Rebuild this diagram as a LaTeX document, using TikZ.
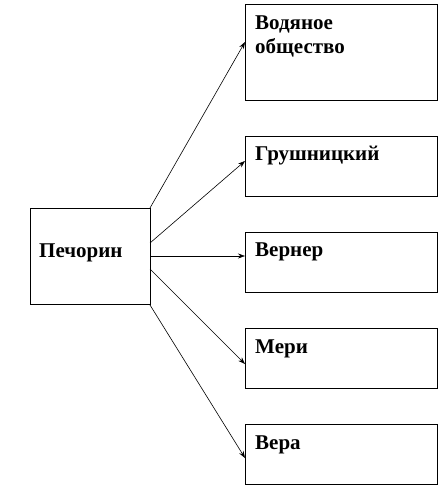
\documentclass[tikz,border=0pt]{standalone}
\usepackage{fontspec}
\setmainfont{Liberation Serif}
\usetikzlibrary{arrows.meta}
\begin{document}
\begin{tikzpicture}[x=1pt,y=-1pt,
  box/.style={draw,line width=0.9pt,minimum width=192pt,minimum height=#1,inner sep=0pt,anchor=north west},
  pbox/.style={draw,line width=0.9pt,minimum width=120pt,minimum height=96pt,inner sep=0pt,anchor=north west},
  lbl/.style={anchor=base west,inner sep=0pt,font=\fontsize{21}{23}\selectfont\bfseries},
  arr/.style={-{Stealth[length=7pt,width=5pt]},line width=0.6pt}]
\useasboundingbox (0,0) rectangle (441,487);
\node[pbox] (p) at (30,208) {};
\node[box=96pt] (b1) at (245,4) {};
\node[box=60pt] (b2) at (245,136) {};
\node[box=60pt] (b3) at (245,232) {};
\node[box=60pt] (b4) at (245,328) {};
\node[box=60pt] (b5) at (245,424) {};
\node[lbl] (tp) at (39,257) {Печорин};
\node[lbl] (t1) at (255,30) {Водяное};
\node[lbl] (t1b) at (255,53) {общество};
\node[lbl] (t2) at (255,160) {Грушницкий};
\node[lbl] (t3) at (255,256) {Вернер};
\node[lbl] (t4) at (255,353) {Мери};
\node[lbl] (t5) at (255,449) {Вера};
\coordinate (s1) at (150,208);
\coordinate (s2) at (150,243);
\coordinate (s3) at (150,256);
\coordinate (s4) at (150,269);
\coordinate (s5) at (150,305);
\coordinate (e1) at (245,42);
\coordinate (e2) at (245,161);
\coordinate (e3) at (245,256);
\coordinate (e4) at (245,364);
\coordinate (e5) at (245,458);
\draw[arr] (s1) -- (e1);
\draw[arr] (s2) -- (e2);
\draw[arr] (s3) -- (e3);
\draw[arr] (s4) -- (e4);
\draw[arr] (s5) -- (e5);
\end{tikzpicture}
\end{document}
